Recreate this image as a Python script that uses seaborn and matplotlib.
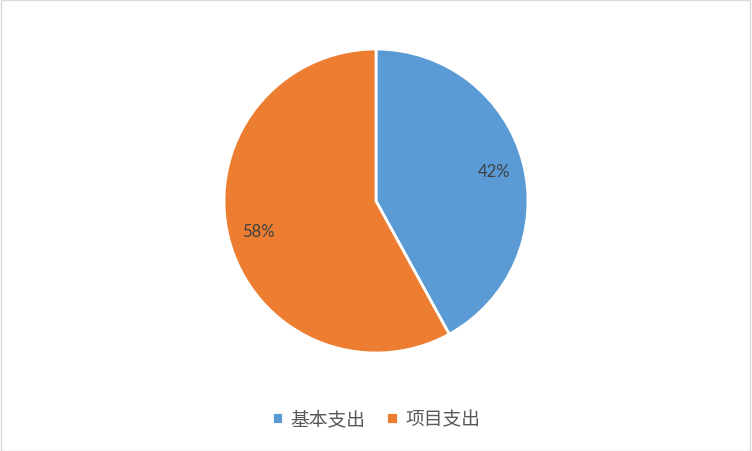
import matplotlib
matplotlib.use("Agg")
import matplotlib.pyplot as plt
import seaborn as sns
from matplotlib.patches import Rectangle

# data
categories = ["基本支出", "项目支出"]
shares = [42, 58]
colors = ["#5B9BD5", "#ED7D31"]

sns.set_style("white")
plt.rcParams["font.family"] = ["Noto Sans CJK SC", "DejaVu Sans"]

fig = plt.figure(figsize=(7.52, 4.52), dpi=100)
ax = fig.add_axes([224 / 752, 98 / 452, 304 / 752, 304 / 452])

wedges, texts, autotexts = ax.pie(
    shares,
    colors=colors,
    startangle=90,
    counterclock=False,
    autopct="%1.0f%%",
    pctdistance=0.8,
    wedgeprops={"edgecolor": "white", "linewidth": 2},
    textprops={"color": "#404040", "fontsize": 12},
)
for t in autotexts:
    t.set_fontfamily(["Lato", "DejaVu Sans"])

ax.set_xlim(-1, 1)
ax.set_ylim(-1, 1)
ax.set_aspect("equal")

fig.legend(
    wedges, categories,
    loc="center", bbox_to_anchor=(0.5, 1 - 420 / 452),
    ncol=2, frameon=False, handlelength=0.6, handleheight=0.6,
    handletextpad=0.4, columnspacing=1.1,
    prop={"size": 13.5}, labelcolor="#595959",
)

# thin border around the chart area
fig.patches.append(Rectangle((0.001, 0.001), 0.997, 0.997, transform=fig.transFigure,
                             fill=False, edgecolor="#D9D9D9", linewidth=1))

fig.savefig("out.png", dpi=100)
